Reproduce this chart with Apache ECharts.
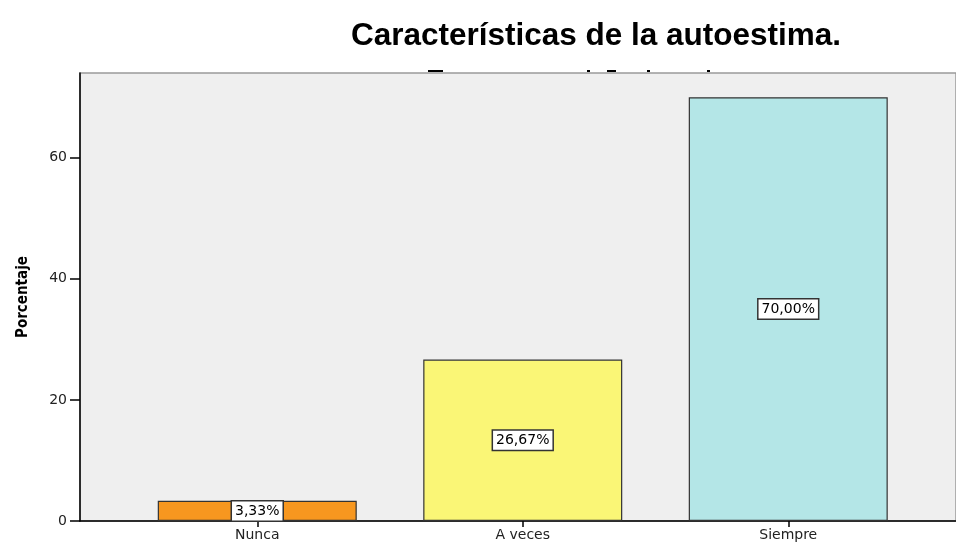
<!DOCTYPE html>
<html>
<head>
<meta charset="utf-8">
<script src="https://cdn.jsdelivr.net/npm/echarts@6/dist/echarts.min.js"></script>
<style>html,body{margin:0;padding:0;background:#fff;}#chart{width:956px;height:542px;}</style>
</head>
<body>
<div id="chart"></div>
<script>
const titleText = 'Características de la autoestima.';
const categories = ['Nunca', 'A veces', 'Siempre'];
const values = [3.33, 26.67, 70.00];
const labels = ['3,33%', '26,67%', '70,00%'];
const barColors = ['#F7971F', '#FAF676', '#B4E6E7'];
const yTicks = [0, 20, 40, 60];
const yName = 'Porcentaje';

const Y_MAX = 74;
const chart = echarts.init(document.getElementById('chart'), null, {renderer: 'canvas'});

const option = {
  animation: false,
  backgroundColor: '#ffffff',
  title: {
    text: titleText,
    left: 591, top: 15, textAlign: 'center',
    textStyle: {fontFamily: 'Liberation Sans', fontWeight: 'bold', fontSize: 31.5, color: '#000'}
  },
  graphic: [
    {type: 'rect', shape: {x: 428, y: 70, width: 15, height: 2}, style: {fill: '#000'}, z: -1},
    {type: 'rect', shape: {x: 587, y: 70, width: 3, height: 2}, style: {fill: '#000'}, z: -1},
    {type: 'rect', shape: {x: 607, y: 70, width: 9, height: 2}, style: {fill: '#000'}, z: -1},
    {type: 'rect', shape: {x: 647, y: 70, width: 3, height: 2}, style: {fill: '#000'}, z: -1},
    {type: 'rect', shape: {x: 707, y: 70, width: 3, height: 2}, style: {fill: '#000'}, z: -1}
  ],
  grid: [
    {left: 80, top: 73, right: -6, bottom: 21, show: true, backgroundColor: '#efefef', borderColor: '#9a9a9a', borderWidth: 1.5},
    {left: 124.5, top: 73, width: 796.5, bottom: 21}
  ],
  xAxis: [
    {gridIndex: 0, type: 'value', min: 0, max: 1,
     axisLine: {show: true, lineStyle: {color: '#000', width: 1.5}},
     axisTick: {show: false}, axisLabel: {show: false}, splitLine: {show: false}},
    {gridIndex: 1, type: 'category', data: categories,
     axisLine: {show: false},
     axisTick: {show: true, alignWithLabel: true, length: 6, lineStyle: {color: '#000', width: 1.5}},
     axisLabel: {fontFamily: 'DejaVu Sans', fontSize: 14, color: '#222', margin: 7},
     splitLine: {show: false}}
  ],
  yAxis: [
    {gridIndex: 0, type: 'value', min: 0, max: Y_MAX, interval: 20,
     name: yName, nameLocation: 'middle', nameGap: 49, nameRotate: 90,
     nameTextStyle: {fontFamily: "'DejaVu Sans Condensed', 'Liberation Sans Narrow', sans-serif", fontWeight: 'bold', fontSize: 15, color: '#000'},
     axisLine: {show: true, lineStyle: {color: '#000', width: 1.5}},
     axisTick: {show: true, length: 10, customValues: yTicks, lineStyle: {color: '#000', width: 1.5}},
     axisLabel: {customValues: yTicks, fontFamily: 'DejaVu Sans', fontSize: 14, color: '#222', margin: 13},
     splitLine: {show: false}},
    {gridIndex: 1, type: 'value', min: 0, max: Y_MAX, show: false}
  ],
  series: [{
    type: 'bar',
    xAxisIndex: 1, yAxisIndex: 1,
    barWidth: 199,
    data: values.map((v, i) => ({
      value: v,
      itemStyle: {color: barColors[i], borderColor: '#333', borderWidth: 1.2},
      label: {formatter: labels[i]}
    })),
    label: {
      show: true, position: 'inside',
      fontFamily: 'DejaVu Sans', fontSize: 14, color: '#000',
      backgroundColor: '#fff', borderColor: '#333', borderWidth: 1.5,
      padding: [3, 3, 2, 3]
    }
  }]
};
chart.setOption(option);
</script>
</body>
</html>
